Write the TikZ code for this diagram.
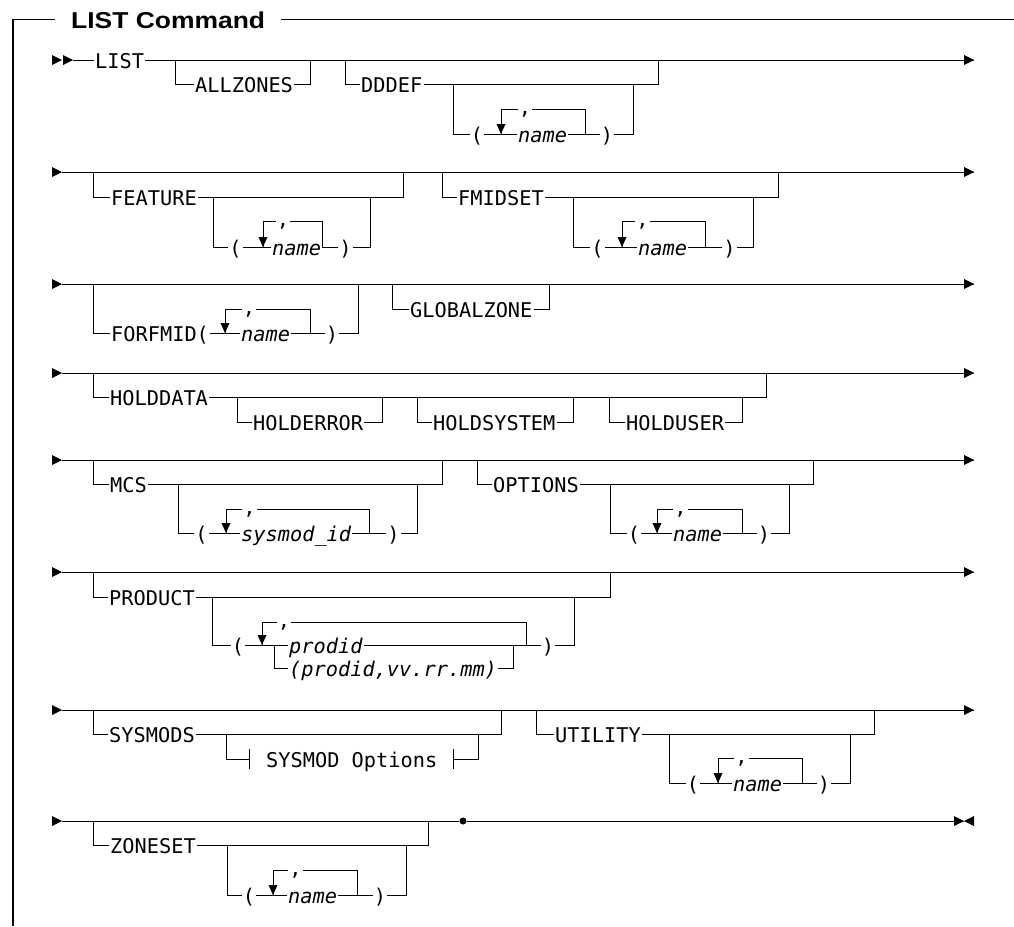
\documentclass[tikz,border=0pt]{standalone}
\usepackage{fontspec}
\newfontfamily\mono{DejaVu Sans Mono}
\newfontfamily\titlefont[FakeStretch=1.15]{Liberation Sans}
\newcommand\railfont{\mono\fontsize{20.3}{24}\selectfont}
% repeat loop: #1 arrow corner, #2 comma node, #3 loop end on the item row, #4 item node
\newcommand\railloop[4]{%
  \draw[rail] (#1 |- #4.west) -- (#1) -- (#2.west);
  \draw[rail] (#2.east) -| (#3);
  \pic at (#1 |- #4.west) {dtip};}
\begin{document}
\begin{tikzpicture}[x=1pt,y=-1pt,
  rail/.style={line width=1pt},
  frame/.style={line width=1.6pt},
  kw/.style={font=\railfont, inner xsep=1pt, inner ysep=0pt,
             text height=17pt, text depth=-2pt, anchor=west},
  par/.style={kw, anchor=center},
  var/.style={kw, font=\railfont\itshape},
  sep/.style={font=\railfont, inner xsep=1pt, inner ysep=0pt,
              text height=10pt, text depth=0pt, anchor=center},
  rtip/.pic={\fill (-10,-5) -- (0,0) -- (-10,5) -- cycle;},
  ltip/.pic={\fill (10,-5) -- (0,0) -- (10,5) -- cycle;},
  dtip/.pic={\fill (-4.5,-10) -- (0,0) -- (4.5,-10) -- cycle;},
]
\useasboundingbox (0,0) rectangle (1014,926);

% ---------- frame and title ----------
\coordinate (fTL) at (13,19.5);
\coordinate (fBL) at (13,926);
\coordinate (fTR) at (1014,19.5);
\node[font=\titlefont\bfseries\fontsize{23}{28}\selectfont, inner xsep=16pt,
      inner ysep=0pt, anchor=base west] (title) at (55,28) {LIST Command};
\draw[frame] (fBL) -- (fTL) -- (title.west |- fTL);
\draw[frame] (title.east |- fTL) -- (fTR);

% ---------- row 1 ----------
\pic at (62,60) {rtip};
\pic at (73,60) {rtip};
\coordinate (r1a) at (73,60);
\coordinate (r1z) at (974,60);
\node[kw] (list) at (94,60) {LIST};
\draw[rail] (r1a) -- (list.west);
\draw[rail] (list.east) -- (r1z);
\pic at (r1z) {rtip};

\coordinate (azL) at (175,60);
\coordinate (azR) at (310,60);
\node[kw] (allz) at (194,84) {ALLZONES};
\draw[rail] (azL) |- (allz.west);
\draw[rail] (allz.east) -| (azR);

\coordinate (ddL) at (345,60);
\coordinate (ddR) at (658,60);
\node[kw] (dddef) at (360,84) {DDDEF};
\draw[rail] (ddL) |- (dddef.west);
\draw[rail] (dddef.east) -| (ddR);
\coordinate (ddiL) at (453,84);
\coordinate (ddiR) at (633,84);
\node[par] (ddlp) at (477,134) {(};
\node[var] (ddname) at (517,134) {name};
\node[par] (ddrp) at (607,134) {)};
\draw[rail] (ddiL) |- (ddlp.west);
\draw[rail] (ddlp.east) -- (ddname.west);
\draw[rail] (ddname.east) -- (ddrp.west);
\draw[rail] (ddrp.east) -| (ddiR);
\coordinate (ddrep) at (501,109);
\coordinate (ddrepR) at (585,134);
\node[sep] (ddcom) at (525,109) {,};
\railloop{ddrep}{ddcom}{ddrepR}{ddname}

% ---------- row 2 ----------
\coordinate (r2a) at (62,172);
\coordinate (r2z) at (974,172);
\draw[rail] (r2a) -- (r2z);
\pic at (r2a) {rtip};
\pic at (r2z) {rtip};

\coordinate (feL) at (93,172);
\coordinate (feR) at (403,172);
\node[kw] (feat) at (110,197) {FEATURE};
\draw[rail] (feL) |- (feat.west);
\draw[rail] (feat.east) -| (feR);
\coordinate (feiL) at (213,197);
\coordinate (feiR) at (370,197);
\node[par] (felp) at (235.5,247) {(};
\node[var] (fename) at (271,247) {name};
\node[par] (ferp) at (345.5,247) {)};
\draw[rail] (feiL) |- (felp.west);
\draw[rail] (felp.east) -- (fename.west);
\draw[rail] (fename.east) -- (ferp.west);
\draw[rail] (ferp.east) -| (feiR);
\coordinate (ferep) at (263,221);
\coordinate (ferepR) at (322,247);
\node[sep] (fecom) at (283,221) {,};
\railloop{ferep}{fecom}{ferepR}{fename}

\coordinate (fmL) at (442,172);
\coordinate (fmR) at (778,172);
\node[kw] (fmid) at (457,197) {FMIDSET};
\draw[rail] (fmL) |- (fmid.west);
\draw[rail] (fmid.east) -| (fmR);
\coordinate (fmiL) at (573,197);
\coordinate (fmiR) at (753,197);
\node[par] (fmlp) at (597.5,247) {(};
\node[var] (fmname) at (637,247) {name};
\node[par] (fmrp) at (729.5,247) {)};
\draw[rail] (fmiL) |- (fmlp.west);
\draw[rail] (fmlp.east) -- (fmname.west);
\draw[rail] (fmname.east) -- (fmrp.west);
\draw[rail] (fmrp.east) -| (fmiR);
\coordinate (fmrep) at (622,221);
\coordinate (fmrepR) at (705,247);
\node[sep] (fmcom) at (642.5,221) {,};
\railloop{fmrep}{fmcom}{fmrepR}{fmname}

% ---------- row 3 ----------
\coordinate (r3a) at (62,284);
\coordinate (r3z) at (974,284);
\draw[rail] (r3a) -- (r3z);
\pic at (r3a) {rtip};
\pic at (r3z) {rtip};

\coordinate (ffL) at (93,284);
\coordinate (ffR) at (358,284);
\node[kw] (ffid) at (110,333) {FORFMID(};
\node[var] (ffname) at (240,333) {name};
\node[par] (ffrp) at (332,333) {)};
\draw[rail] (ffL) |- (ffid.west);
\draw[rail] (ffid.east) -- (ffname.west);
\draw[rail] (ffname.east) -- (ffrp.west);
\draw[rail] (ffrp.east) -| (ffR);
\coordinate (ffrep) at (225,309);
\coordinate (ffrepR) at (310,333);
\node[sep] (ffcom) at (249,309) {,};
\railloop{ffrep}{ffcom}{ffrepR}{ffname}

\coordinate (gzL) at (392,284);
\coordinate (gzR) at (549,284);
\node[kw] (gzone) at (409,309) {GLOBALZONE};
\draw[rail] (gzL) |- (gzone.west);
\draw[rail] (gzone.east) -| (gzR);

% ---------- row 4 ----------
\coordinate (r4a) at (62,373);
\coordinate (r4z) at (974,373);
\draw[rail] (r4a) -- (r4z);
\pic at (r4a) {rtip};
\pic at (r4z) {rtip};

\coordinate (hdL) at (93,373);
\coordinate (hdR) at (766,373);
\node[kw] (hdata) at (109,397) {HOLDDATA};
\draw[rail] (hdL) |- (hdata.west);
\draw[rail] (hdata.east) -| (hdR);

\coordinate (heL) at (237,397);
\coordinate (heR) at (382,397);
\node[kw] (herr) at (252,422) {HOLDERROR};
\draw[rail] (heL) |- (herr.west);
\draw[rail] (herr.east) -| (heR);

\coordinate (hsL) at (417,397);
\coordinate (hsR) at (573,397);
\node[kw] (hsys) at (432,422) {HOLDSYSTEM};
\draw[rail] (hsL) |- (hsys.west);
\draw[rail] (hsys.east) -| (hsR);

\coordinate (huL) at (609,397);
\coordinate (huR) at (742,397);
\node[kw] (huser) at (625,422) {HOLDUSER};
\draw[rail] (huL) |- (huser.west);
\draw[rail] (huser.east) -| (huR);

% ---------- row 5 ----------
\coordinate (r5a) at (62,460);
\coordinate (r5z) at (974,460);
\draw[rail] (r5a) -- (r5z);
\pic at (r5a) {rtip};
\pic at (r5z) {rtip};

\coordinate (mcL) at (93,460);
\coordinate (mcR) at (442,460);
\node[kw] (mcs) at (109,484) {MCS};
\draw[rail] (mcL) |- (mcs.west);
\draw[rail] (mcs.east) -| (mcR);
\coordinate (mciL) at (178,484);
\coordinate (mciR) at (417,484);
\node[par] (mclp) at (201.5,533) {(};
\node[var] (mcid) at (240,533) {sysmod\_id};
\node[par] (mcrp) at (393.5,533) {)};
\draw[rail] (mciL) |- (mclp.west);
\draw[rail] (mclp.east) -- (mcid.west);
\draw[rail] (mcid.east) -- (mcrp.west);
\draw[rail] (mcrp.east) -| (mciR);
\coordinate (mcrep) at (226,509);
\coordinate (mcrepR) at (369,533);
\node[sep] (mccom) at (249.5,509) {,};
\railloop{mcrep}{mccom}{mcrepR}{mcid}

\coordinate (opL) at (477,460);
\coordinate (opR) at (813,460);
\node[kw] (opts) at (492,484) {OPTIONS};
\draw[rail] (opL) |- (opts.west);
\draw[rail] (opts.east) -| (opR);
\coordinate (opiL) at (610,484);
\coordinate (opiR) at (789,484);
\node[par] (oplp) at (634,533) {(};
\node[var] (opname) at (672,533) {name};
\node[par] (oprp) at (764,533) {)};
\draw[rail] (opiL) |- (oplp.west);
\draw[rail] (oplp.east) -- (opname.west);
\draw[rail] (opname.east) -- (oprp.west);
\draw[rail] (oprp.east) -| (opiR);
\coordinate (oprep) at (657,509);
\coordinate (oprepR) at (742,533);
\node[sep] (opcom) at (680.5,509) {,};
\railloop{oprep}{opcom}{oprepR}{opname}

% ---------- row 6 ----------
\coordinate (r6a) at (62,572);
\coordinate (r6z) at (974,572);
\draw[rail] (r6a) -- (r6z);
\pic at (r6a) {rtip};
\pic at (r6z) {rtip};

\coordinate (prL) at (93,572);
\coordinate (prR) at (610,572);
\node[kw] (prod) at (108,597) {PRODUCT};
\draw[rail] (prL) |- (prod.west);
\draw[rail] (prod.east) -| (prR);
\coordinate (priL) at (212,597);
\coordinate (priR) at (574,597);
\node[par] (prlp) at (238,645) {(};
\node[var] (prid) at (288,645) {prodid};
\node[par] (prrp) at (548,645) {)};
\draw[rail] (priL) |- (prlp.west);
\draw[rail] (prlp.east) -- (prid.west);
\draw[rail] (prid.east) -- (prrp.west);
\draw[rail] (prrp.east) -| (priR);
\coordinate (altL) at (274,645);
\coordinate (altR) at (513,645);
\node[var] (pralt) at (288,668) {(prodid,vv.rr.mm)};
\draw[rail] (altL) |- (pralt.west);
\draw[rail] (pralt.east) -| (altR);
\coordinate (prrep) at (262,622);
\coordinate (prrepR) at (526,645);
\node[sep] (prcom) at (284,622) {,};
\railloop{prrep}{prcom}{prrepR}{prid}

% ---------- row 7 ----------
\coordinate (r7a) at (62,710);
\coordinate (r7z) at (974,710);
\draw[rail] (r7a) -- (r7z);
\pic at (r7a) {rtip};
\pic at (r7z) {rtip};

\coordinate (syL) at (93,710);
\coordinate (syR) at (501,710);
\node[kw] (sysm) at (108,734) {SYSMODS};
\draw[rail] (syL) |- (sysm.west);
\draw[rail] (sysm.east) -| (syR);
\coordinate (syiL) at (226,734);
\coordinate (syiR) at (478,734);
\coordinate (sobL) at (249,759);
\coordinate (sobR) at (453,759);
\node[kw] (sopt) at (265,759) {SYSMOD Options};
\draw[rail] (syiL) |- (sobL);
\draw[rail] (sobR) -| (syiR);
\draw[rail] (sobL) ++(0,-10) -- ++(0,20);
\draw[rail] (sobR) ++(0,-10) -- ++(0,20);

\coordinate (utL) at (536,710);
\coordinate (utR) at (874,710);
\node[kw] (util) at (554,734) {UTILITY};
\draw[rail] (utL) |- (util.west);
\draw[rail] (util.east) -| (utR);
\coordinate (utiL) at (669,734);
\coordinate (utiR) at (850,734);
\node[par] (utlp) at (693,783) {(};
\node[var] (utname) at (732,783) {name};
\node[par] (utrp) at (824,783) {)};
\draw[rail] (utiL) |- (utlp.west);
\draw[rail] (utlp.east) -- (utname.west);
\draw[rail] (utname.east) -- (utrp.west);
\draw[rail] (utrp.east) -| (utiR);
\coordinate (utrep) at (718,758);
\coordinate (utrepR) at (802,783);
\node[sep] (utcom) at (741.5,758) {,};
\railloop{utrep}{utcom}{utrepR}{utname}

% ---------- row 8 ----------
\coordinate (r8a) at (62,821);
\coordinate (r8z) at (964,821);
\node[circle, fill, inner sep=0pt, minimum size=7pt] (stop) at (463,821) {};
\draw[rail] (r8a) -- (stop) -- (r8z);
\pic at (r8a) {rtip};
\pic at (r8z) {rtip};
\pic at (r8z) {ltip};

\coordinate (zsL) at (93,821);
\coordinate (zsR) at (428,821);
\node[kw] (zset) at (109,845) {ZONESET};
\draw[rail] (zsL) |- (zset.west);
\draw[rail] (zset.east) -| (zsR);
\coordinate (zsiL) at (227,845);
\coordinate (zsiR) at (406,845);
\node[par] (zslp) at (249,895) {(};
\node[var] (zsname) at (287,895) {name};
\node[par] (zsrp) at (380,895) {)};
\draw[rail] (zsiL) |- (zslp.west);
\draw[rail] (zslp.east) -- (zsname.west);
\draw[rail] (zsname.east) -- (zsrp.west);
\draw[rail] (zsrp.east) -| (zsiR);
\coordinate (zsrep) at (273,870);
\coordinate (zsrepR) at (357,895);
\node[sep] (zscom) at (295.5,870) {,};
\railloop{zsrep}{zscom}{zsrepR}{zsname}
\end{tikzpicture}
\end{document}
